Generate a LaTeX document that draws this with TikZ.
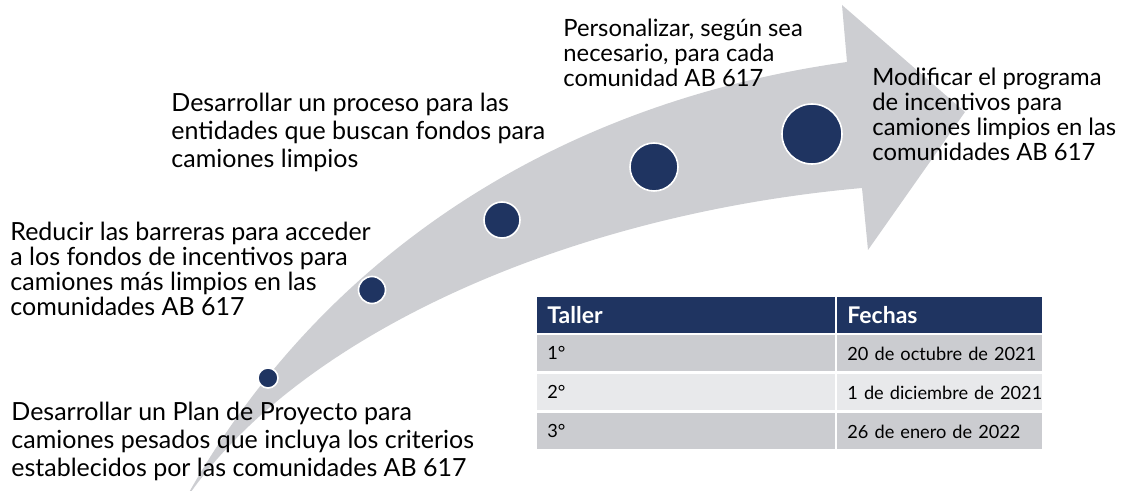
\documentclass[tikz,border=0pt]{standalone}
\usepackage{fontspec}
\setmainfont{Lato}
\usetikzlibrary{positioning}
\definecolor{navy}{HTML}{1F3461}
\definecolor{swoosh}{HTML}{CDCED2}
\definecolor{rowdark}{HTML}{CBCCD0}
\definecolor{rowlight}{HTML}{E8E9EB}
\tikzset{
  goal/.style={anchor=north west, inner sep=0pt, align=left,
    font=\fontsize{12.5}{12.4}\selectfont, text=black},
  wide goal/.style={goal, font=\fontsize{12.5}{13.8}\selectfont},
  small goal/.style={goal, font=\fontsize{11.9}{12.4}\selectfont},
  milestone/.style={circle, fill=navy, draw=white, line width=0.8pt, inner sep=0pt},
  cell/.style={anchor=north west, inner xsep=5pt, inner ysep=0pt,
    minimum height=18pt, align=left, font=\fontsize{9.1}{12}\selectfont},
  head cell/.style={cell, fill=navy, text=white, font=\fontsize{11.5}{13}\bfseries},
  first col/.style={minimum width=149pt, text width=139pt},
  second col/.style={minimum width=102.5pt, text width=92.5pt},
}

\begin{document}
\begin{tikzpicture}[x=0.5pt, y=-0.5pt]
    \useasboundingbox (0,0) rectangle (1131,491);

    % the curved arrow
    \coordinate (T) at (182,505);
    \coordinate (U) at (847,62);
    \coordinate (L) at (862,188);
    \fill [swoosh] (T) .. controls (310,270) and (540,105) .. (U)
      -- (842,5) -- (965,112) -- (868,250) -- (L)
      .. controls (560,215) and (290,340) .. (T) -- cycle;

    % milestones along the arrow
    \foreach \cx/\cy/\rad/\name in
    {
      268/378/10/m1,
      372/290/13.5/m2,
      502/220/18/m3,
      654/167/24/m4,
      812/134/30/m5%
    }
    {
     \node [milestone, minimum size=\rad pt] (\name) at (\cx,\cy) {};
    }

    % texts
    \node [wide goal] (plan) at (11,402) {Desarrollar un Plan de Proyecto para\\camiones pesados que incluya los criterios\\establecidos por las comunidades AB 617};
    \node [goal] (barriers) at (10,222) {Reducir las barreras para acceder\\a los fondos de incentivos para\\camiones más limpios en las\\comunidades AB 617};
    \node [wide goal] (process) at (171,93) {Desarrollar un proceso para las\\entidades que buscan fondos para\\camiones limpios};
    \node [small goal] (custom) at (563,19) {Personalizar, según sea\\necesario, para cada\\comunidad AB 617};
    \node [small goal] (modify) at (872,68) {Modificar el programa\\de incentivos para\\camiones limpios en las\\comunidades AB 617};

    % table of workshops
    \node [head cell, first col] (head1) at (537,297) {Taller};
    \node [head cell, second col] (head2) at (837,297) {Fechas};
    \foreach \row/\ty/\num/\date/\shade in
    {
      1/335/1°/20 de octubre de 2021/rowdark,
      2/374/2°/1 de diciembre de 2021/rowlight,
      3/413/3°/26 de enero de 2022/rowdark%
    }
    {
     \node [cell, first col, fill=\shade] (num\row) at (537,\ty) {\num};
     \node [cell, second col, fill=\shade] (date\row) at (837,\ty) {\mbox{\date}};
    }

\end{tikzpicture}
\end{document}
